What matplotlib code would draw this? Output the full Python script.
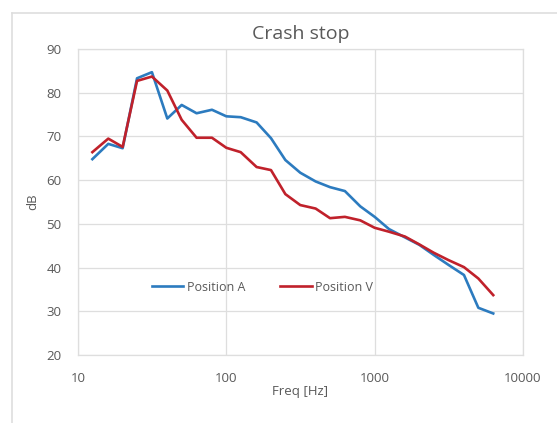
import matplotlib
matplotlib.use("Agg")
import matplotlib.pyplot as plt
from matplotlib.lines import Line2D
from matplotlib.ticker import FixedLocator, FixedFormatter, NullLocator

# One-third octave band centre frequencies
freq_hz = [12.5, 16, 20, 25, 31.5, 40, 50, 63, 80, 100, 125, 160, 200, 250,
           315, 400, 500, 630, 800, 1000, 1250, 1600, 2000, 2500, 3150, 4000,
           5000, 6300]

position_a = [64.8, 68.3, 67.3, 83.3, 84.7, 74.1, 77.2, 75.3, 76.1, 74.6,
              74.4, 73.2, 69.6, 64.6, 61.7, 59.7, 58.4, 57.5, 54.0, 51.6,
              48.8, 46.9, 45.2, 42.9, 40.6, 38.3, 30.8, 29.5]

position_v = [66.4, 69.5, 67.6, 82.7, 83.7, 80.5, 73.8, 69.7, 69.7, 67.4,
              66.4, 63.0, 62.3, 56.8, 54.3, 53.5, 51.3, 51.6, 50.8, 49.1,
              48.2, 47.1, 45.3, 43.4, 41.7, 40.1, 37.5, 33.7]

x_ticks = [10, 100, 1000, 10000]
x_tick_labels = ["10", "100", "1000", "10000"]
y_ticks = [20, 30, 40, 50, 60, 70, 80, 90]

plt.rcParams["font.family"] = ["Open Sans", "DejaVu Sans"]

W, H = 557, 423
fig = plt.figure(figsize=(W / 100, H / 100), dpi=100)
fig.patch.set_facecolor("white")

grid_col = "#dedede"
text_col = "#595959"

# chart frame
fig.add_artist(Line2D([12 / W, 1.0], [1 - 13 / H, 1 - 13 / H],
                      transform=fig.transFigure, color=grid_col, lw=1.2))
fig.add_artist(Line2D([12 / W, 12 / W], [0.0, 1 - 13 / H],
                      transform=fig.transFigure, color=grid_col, lw=1.2))

ax = fig.add_axes([78 / W, 1 - 355 / H, 445 / W, 306 / H])
ax.set_xscale("log")
ax.set_xlim(10, 10000)
ax.set_ylim(20, 90)

ax.plot(freq_hz, position_a, color="#2c7bbf", lw=1.9, label="Position A",
        solid_joinstyle="round")
ax.plot(freq_hz, position_v, color="#c0212b", lw=1.9, label="Position V",
        solid_joinstyle="round")

ax.xaxis.set_major_locator(FixedLocator(x_ticks))
ax.xaxis.set_major_formatter(FixedFormatter(x_tick_labels))
ax.xaxis.set_minor_locator(NullLocator())
ax.set_yticks(y_ticks)

ax.grid(True, which="major", color=grid_col, lw=0.9)
ax.set_axisbelow(True)
for side, sp in ax.spines.items():
    sp.set_color(grid_col)
    sp.set_linewidth(0.9)

ax.tick_params(axis="both", length=0, labelsize=9.5, colors=text_col)
ax.tick_params(axis="x", pad=12)
ax.tick_params(axis="y", pad=12)

ax.set_title("Crash stop", fontsize=14, color=text_col, pad=7)
ax.set_xlabel("Freq [Hz]", fontsize=9.5, color=text_col, labelpad=0)
ax.set_ylabel("dB", fontsize=9.5, color=text_col, labelpad=5)

leg = ax.legend(loc="center", bbox_to_anchor=(0.415, 0.222), ncol=2,
                frameon=False, fontsize=9, handlelength=2.5,
                handletextpad=0.3, columnspacing=2.8)
for t in leg.get_texts():
    t.set_color(text_col)

fig.savefig("out.png", dpi=100, facecolor="white")
